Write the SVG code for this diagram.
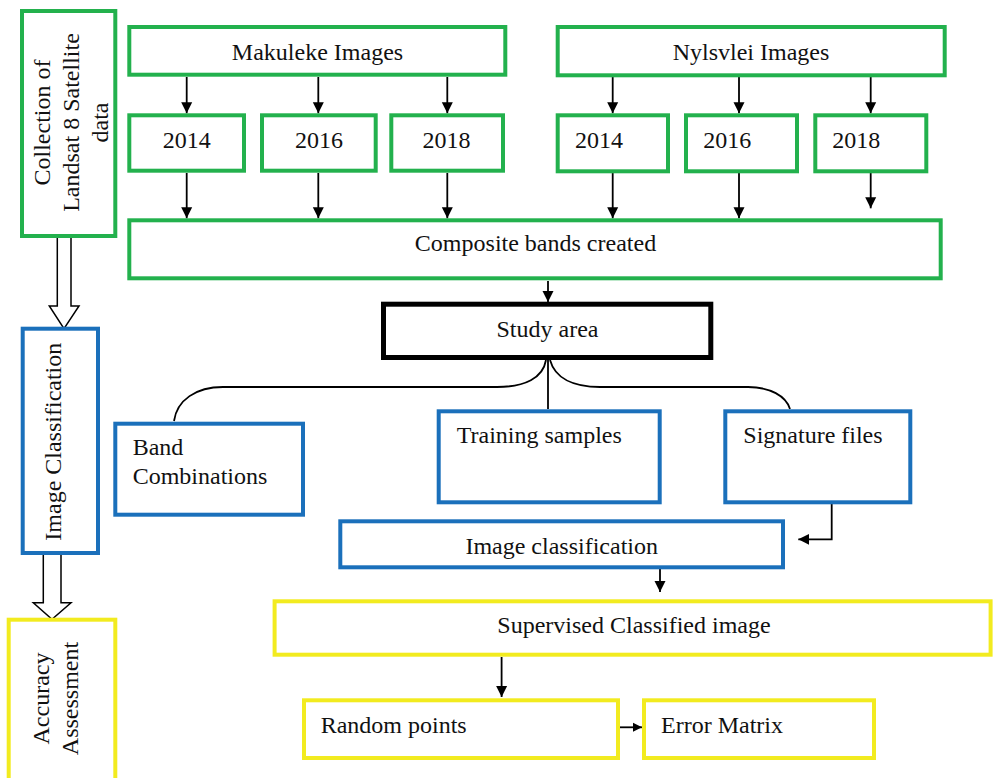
<svg xmlns="http://www.w3.org/2000/svg" width="993" height="778" viewBox="0 0 993 778" font-family="'Liberation Serif', 'Times New Roman', 'DejaVu Serif', serif" font-size="24">
<defs>
<marker id="ah" markerUnits="userSpaceOnUse" markerWidth="12" markerHeight="12" refX="11" refY="6" orient="auto">
<path d="M0,0.5 L11,6 L0,11.5 z" fill="#000"/>
</marker>
<marker id="ahs" markerUnits="userSpaceOnUse" markerWidth="10" markerHeight="10" refX="9" refY="5" orient="auto">
<path d="M0,0.5 L9,5 L0,9.5 z" fill="#000"/>
</marker>
</defs>
<style>
rect{fill:#fff;stroke-width:4}
.g{stroke:#23b14d}
.b{stroke:#1b70bb}
.y{stroke:#f2eb1f}
.k{stroke:#000;stroke-width:5}
text{fill:#111}
.m{text-anchor:middle}
.c{fill:none;stroke:#000;stroke-width:1.8}
.a{marker-end:url(#ah)}
.hollow{fill:#fff;stroke:#000;stroke-width:1.5}
</style>

<g id="connectors">
<polygon class="hollow" points="57.3,237 71,237 71,306 79,306 64,328.7 49.3,306 57.3,306"/>
<polygon class="hollow" points="43.3,554 61,554 61,602.7 71,602.7 52,619.3 33.3,602.7 43.3,602.7"/>
<path class="c a" d="M186.7,77 L186.7,113.3"/>
<path class="c a" d="M318.3,77 L318.3,113.3"/>
<path class="c a" d="M447.3,77 L447.3,113.3"/>
<path class="c a" d="M612.7,77 L612.7,113.3"/>
<path class="c a" d="M739,77 L739,113.3"/>
<path class="c a" d="M870.7,77 L870.7,113.3"/>
<path class="c a" d="M186.7,173 L186.7,218.3"/>
<path class="c a" d="M318.3,173 L318.3,218.3"/>
<path class="c a" d="M447.3,173 L447.3,218.3"/>
<path class="c a" d="M612.7,173 L612.7,218.3"/>
<path class="c a" d="M739,173 L739,218.3"/>
<path class="c a" d="M870.7,173 L870.7,208.3"/>
<path class="c a" d="M548,281 L548,302"/>
<path class="c" d="M546,360 C543,378 525,387 497,387 L223,387 C196,387 177,400 174,421"/>
<path class="c" d="M548,360 L548,409"/>
<path class="c" d="M550,360 C555,378 573,387 600,387 L748,387 C770,387 786,396 790,409"/>
<path class="c a" d="M831.7,504 L831.7,539.3 L798.3,539.3"/>
<path class="c a" d="M660,569 L660,592"/>
<path class="c a" d="M501.6,657 L501.6,697"/>
<path class="c" d="M620,727.3 L642,727.3" style="marker-end:url(#ahs)"/>
</g>

<g id="collection">
<rect class="g" x="22" y="11" width="93.3" height="225"/>
<text class="m" transform="translate(50,122.5) rotate(-90)">Collection of</text>
<text class="m" transform="translate(79,122.5) rotate(-90)">Landsat 8 Satellite</text>
<text class="m" transform="translate(108,122.5) rotate(-90)">data</text>
</g>
<g id="image-classification-stage">
<rect class="b" x="22.7" y="328.7" width="75.3" height="224.3"/>
<text class="m" transform="translate(61,441.7) rotate(-90)">Image Classification</text>
</g>
<g id="accuracy-assessment">
<rect class="y" x="8.7" y="619.7" width="106.6" height="170"/>
<text class="m" transform="translate(49,698.5) rotate(-90)">Accuracy</text>
<text class="m" transform="translate(78,698.5) rotate(-90)">Assessment</text>
</g>

<g id="makuleke">
<rect class="g" x="129.3" y="27" width="376" height="47.7"/>
<text class="m" x="317.5" y="60">Makuleke Images</text>
</g>
<g id="mak-2014">
<rect class="g" x="129.3" y="115.3" width="114.7" height="55.4"/>
<text class="m" x="186.7" y="148">2014</text>
</g>
<g id="mak-2016">
<rect class="g" x="262" y="115.3" width="113.7" height="55.4"/>
<text class="m" x="319" y="148">2016</text>
</g>
<g id="mak-2018">
<rect class="g" x="391.3" y="115.3" width="111.7" height="55.4"/>
<text class="m" x="446.5" y="148">2018</text>
</g>

<g id="nylsvlei">
<rect class="g" x="557.7" y="27" width="387" height="48.3"/>
<text class="m" x="751" y="60">Nylsvlei Images</text>
</g>
<g id="ny-2014">
<rect class="g" x="557.7" y="115.3" width="110.3" height="56"/>
<text x="575" y="148">2014</text>
</g>
<g id="ny-2016">
<rect class="g" x="686" y="115.3" width="111" height="56"/>
<text x="703.3" y="148">2016</text>
</g>
<g id="ny-2018">
<rect class="g" x="815.3" y="115.3" width="111" height="56"/>
<text x="832.3" y="148">2018</text>
</g>

<g id="composite">
<rect class="g" x="129.3" y="220.3" width="811.4" height="58"/>
<text class="m" x="535.5" y="251">Composite bands created</text>
</g>
<g id="study-area">
<rect class="k" x="383.5" y="304.2" width="327.3" height="53.3"/>
<text class="m" x="547.5" y="337.3">Study area</text>
</g>
<g id="band-combinations">
<rect class="b" x="115.3" y="423.7" width="187.7" height="91"/>
<text x="132.7" y="455">Band</text>
<text x="132.7" y="484">Combinations</text>
</g>
<g id="training-samples">
<rect class="b" x="438.7" y="411.3" width="221" height="91"/>
<text x="456.7" y="443.3">Training samples</text>
</g>
<g id="signature-files">
<rect class="b" x="725.3" y="411.3" width="185" height="91"/>
<text x="743.3" y="443.3">Signature files</text>
</g>
<g id="image-classification">
<rect class="b" x="340.3" y="521.3" width="442.7" height="46"/>
<text class="m" x="561.7" y="554">Image classification</text>
</g>
<g id="supervised">
<rect class="y" x="274.6" y="601.3" width="716" height="53.4"/>
<text class="m" x="634" y="633.3">Supervised Classified image</text>
</g>
<g id="random-points">
<rect class="y" x="304" y="700.3" width="314" height="57.7"/>
<text x="320.7" y="733.3">Random points</text>
</g>
<g id="error-matrix">
<rect class="y" x="644" y="700.3" width="230" height="57.7"/>
<text x="661" y="733.3">Error Matrix</text>
</g>
</svg>
